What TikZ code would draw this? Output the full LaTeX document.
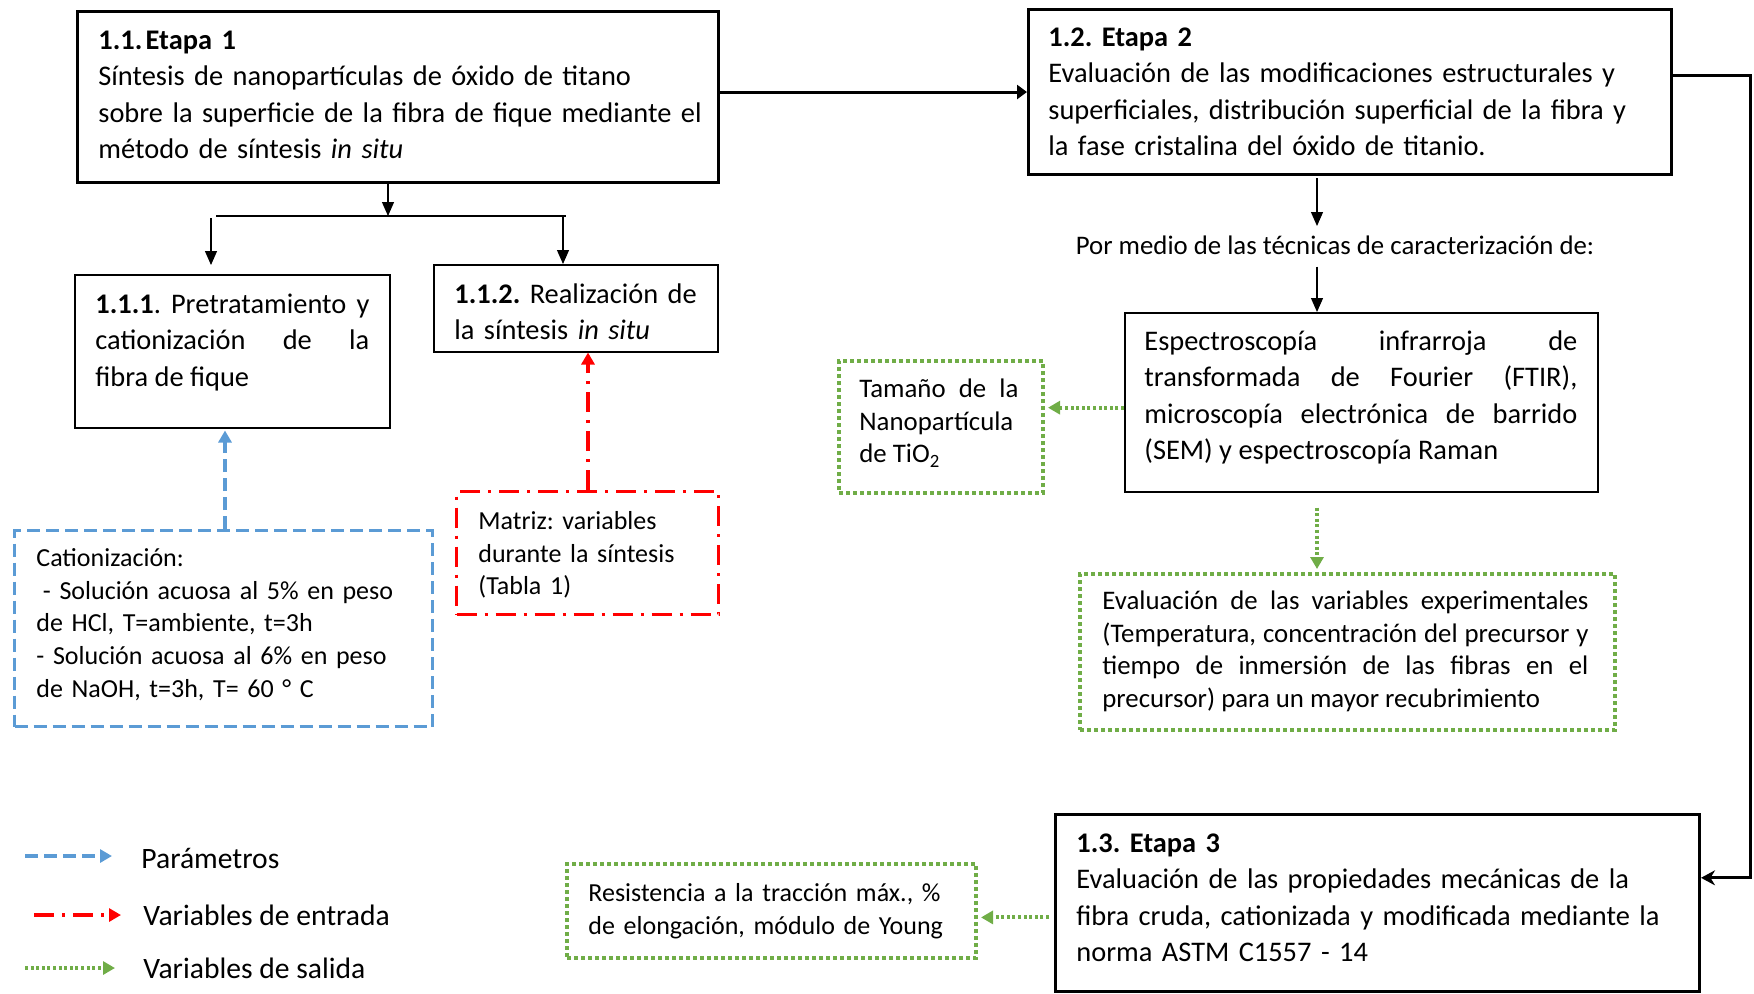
\documentclass[tikz,border=0pt]{standalone}
\usepackage{fontspec}
\setmainfont{Carlito}
\usetikzlibrary{arrows.meta,calc}
\definecolor{cblue}{HTML}{5B9BD5}
\definecolor{cgreen}{HTML}{70AD47}
\definecolor{cred}{HTML}{FF0000}
\newcommand\fmain{\fontsize{14.2pt}{18.1pt}\selectfont\frenchspacing}
\newcommand\flegend{\fontsize{14.8pt}{18.1pt}\selectfont\frenchspacing}
\newcommand\fsmall{\fontsize{13.4pt}{16.4pt}\selectfont\frenchspacing}
\newcommand\fsmaller{\fontsize{13.0pt}{16.4pt}\selectfont\frenchspacing}
\hyphenpenalty=10000
\exhyphenpenalty=10000
\tolerance=9999
\hbadness=10000
\begin{document}
\begin{tikzpicture}[x=0.5pt,y=-0.5pt,
  box/.style={draw, inner sep=0pt, anchor=north west},
  thickbox/.style={box, line width=1.5pt},
  thinbox/.style={box, line width=0.75pt},
  bluebox/.style={box, draw=cblue, line width=1.6pt, dash pattern=on 6.5pt off 3pt},
  redbox/.style={box, draw=cred, line width=1.6pt, dash pattern=on 10pt off 4pt on 1.5pt off 4pt},
  greenbox/.style={box, draw=cgreen, line width=2pt, dash pattern=on 2pt off 1.5pt},
  txt/.style={inner sep=0pt, anchor=north west, font=\fmain, align=left},
  jtxt/.style={txt, align=justify},
  stxt/.style={txt, font=\fsmall},
  sstxt/.style={txt, font=\fsmaller},
  sjtxt/.style={jtxt, font=\fsmall},
  legtxt/.style={inner sep=0pt, anchor=base west, font=\flegend},
  thinline/.style={line width=0.6pt},
  thinarr/.style={line width=0.6pt, -{Triangle[length=7pt,width=6pt]}},
  thickarr/.style={line width=1.5pt, -{Triangle[length=5pt,width=7pt]}},
  thickarrb/.style={line width=1.5pt, -{Stealth[length=7pt,width=7.5pt]}},
  bluearr/.style={cblue, line width=1.6pt, dash pattern=on 6.5pt off 3pt, -{Triangle[length=6pt,width=6.5pt]}},
  redarr/.style={cred, line width=1.6pt, dash pattern=on 10pt off 4pt on 1.5pt off 4pt, -{Triangle[length=6pt,width=6.5pt]}},
  greenarr/.style={cgreen, line width=2pt, dash pattern=on 1.5pt off 1.3pt, -{Triangle[length=6pt,width=6.5pt]}},
]
\useasboundingbox (0,0) rectangle (1754,993);

% ---- boxes ----
\node[thickbox, minimum width=320.5pt, minimum height=85.5pt] (e1) at (76,10) {};
\node[thickbox, minimum width=321.5pt, minimum height=82.5pt] (e2) at (1027,8) {};
\node[thinbox, minimum width=157.5pt, minimum height=76.5pt] (b111) at (74,274) {};
\node[thinbox, minimum width=142pt, minimum height=43.5pt] (b112) at (433,264) {};
\node[bluebox, minimum width=209pt, minimum height=98pt] (blue) at (13,529) {};
\node[redbox, minimum width=131pt, minimum height=61.5pt] (red) at (455,490) {};
\node[thinbox, minimum width=236.5pt, minimum height=89.5pt] (ftir) at (1124,312) {};
\node[greenbox, minimum width=102pt, minimum height=66pt] (tam) at (837,359) {};
\node[greenbox, minimum width=267.5pt, minimum height=78pt] (eval) at (1078,572) {};
\node[thickbox, minimum width=322pt, minimum height=88.5pt] (e3) at (1054,813) {};
\node[greenbox, minimum width=204.5pt, minimum height=47pt] (res) at (565,862) {};

% ---- texts ----
\node[txt, text width=330pt] (e1t) at (98,24) {\strut\textbf{1.1.\hspace{0.12em}Etapa 1}\\
Síntesis de nanopartículas de óxido de titano\\
sobre la superficie de la fibra de fique mediante el\\
método de síntesis \textit{in situ}};

\node[txt, text width=330pt] (e2t) at (1048,21) {\strut\textbf{1.2. Etapa 2}\\
Evaluación de las modificaciones estructurales y\\
superficiales, distribución superficial de la fibra y\\
la fase cristalina del óxido de titanio.};

\node[jtxt, text width=137pt] (t111) at (95,288) {\strut\textbf{1.1.1}. Pretratamiento y\linebreak
cationización de la\linebreak fibra de fique};

\node[txt, text width=135pt] (t112) at (454,278) {\strut\textbf{1.1.2.} Realización de\\
la síntesis \textit{in situ}};

\node[sstxt, text width=195pt] (bluet) at (36,543) {\strut Cationización:\\
\hspace{0.25em}- Solución acuosa al 5\% en peso\\
de HCl, T=ambiente, t=3h\\
- Solución acuosa al 6\% en peso\\
de NaOH, t=3h, T= 60 ° C};

\node[sstxt, text width=120pt] (redt) at (478,506) {\strut Matriz: variables\\
durante la síntesis\\
(Tabla 1)};

\node[inner sep=0pt, anchor=base, font=\fsmall] (pm) at (1335,254) {Por medio de las técnicas de caracterización de:};

\node[jtxt, text width=216.5pt] (ftirt) at (1144,325) {\strut Espectroscopía infrarroja de\linebreak
transformada de Fourier (FTIR),\linebreak
microscopía electrónica de barrido\linebreak
(SEM) y espectroscopía Raman};

\node[sjtxt, text width=79.5pt] (tamt) at (859,374) {\strut Tamaño de la\linebreak
Nanopartícula\newline de TiO\textsubscript{2}};

\node[sjtxt, text width=243pt] (evalt) at (1102,586) {\strut Evaluación de las variables experimentales\linebreak
(Temperatura, concentración del precursor y\linebreak
tiempo de inmersión de las fibras en el\linebreak
precursor) para un mayor recubrimiento};

\node[txt, text width=330pt] (e3t) at (1076,827) {\strut\textbf{1.3. Etapa 3}\\
Evaluación de las propiedades mecánicas de la\\
fibra cruda, cationizada y modificada mediante la\\
norma ASTM C1557 - 14};

\node[sstxt, text width=200pt] (rest) at (588,878) {\strut Resistencia a la tracción máx., \%\\
de elongación, módulo de Young};

% ---- connectors ----
\draw[thickarr] (e1.east |- e2.west) -- (e2.west);
\coordinate (e2out) at ($(e2.north east)!0.4!(e2.south east)$);
\coordinate (e3in) at ($(e3.north east)!0.36!(e3.south east)$);
\draw[thickarrb] (e2out) -- ++(77,0) |- (e3in);

\coordinate (sp) at (388,216);
\coordinate (spl) at (211,218);
\coordinate (spr) at (563,216);
\draw[thinarr] (e1.south -| sp) -- (sp);
\draw[thinline] (216,216) -- (566,216);
\draw[thinarr, shorten >=4.5pt] (spl) -- (spl |- b111.north);
\draw[thinarr] (spr) -- (spr |- b112.north);

\coordinate (bluefrom) at ($(blue.north west)+(212,0)$);
\draw[bluearr, shorten >=1pt] (bluefrom) -- (bluefrom |- b111.south);
\coordinate (redfrom) at ($(red.north west)+(133,0)$);
\draw[redarr] (redfrom) -- (redfrom |- b112.south);

\coordinate (pmx) at ($(e2.south west)+(290,0)$);
\draw[thinarr, shorten <=1pt, shorten >=4.5pt] (pmx) -- (pmx |- pm.north);
\draw[thinarr, shorten <=6pt] (pmx |- pm.south) -- (pmx |- ftir.north);

\coordinate (gf) at ($(ftir.north west)!0.53!(ftir.south west)$);
\draw[greenarr, shorten >=1.5pt] (gf) -- (gf -| tam.east);
\draw[greenarr, shorten <=7.5pt, shorten >=1.5pt] (pmx |- ftir.south) -- (pmx |- eval.north);
\coordinate (ge) at ($(e3.north west)!0.58!(e3.south west)$);
\draw[greenarr, shorten <=2.5pt, shorten >=1.5pt] (ge) -- (ge -| res.east);

% ---- legend ----
\coordinate (lb1) at (25,856); \coordinate (lb2) at (112,856);
\coordinate (lr1) at (34,915); \coordinate (lr2) at (121,915);
\coordinate (lg1) at (25,968); \coordinate (lg2) at (115,968);
\draw[bluearr] (lb1) -- (lb2);
\draw[redarr] (lr1) -- (lr2);
\draw[greenarr] (lg1) -- (lg2);
\node[legtxt] (leg1) at (141,868) {Parámetros};
\node[legtxt] (leg2) at (143,925) {Variables de entrada};
\node[legtxt] (leg3) at (143,978) {Variables de salida};
\end{tikzpicture}
\end{document}
